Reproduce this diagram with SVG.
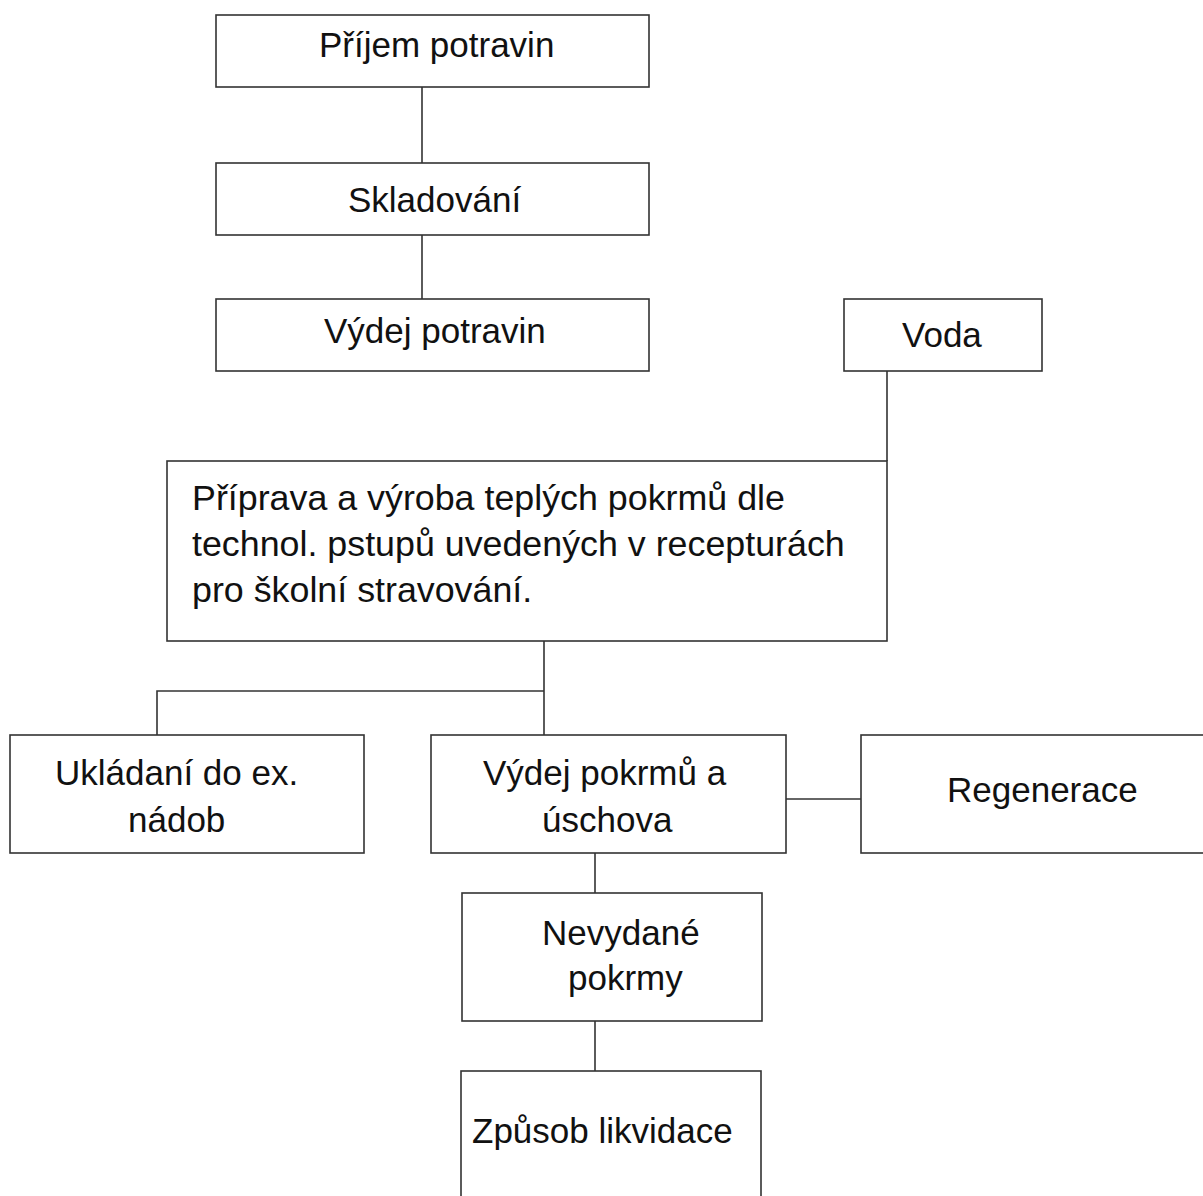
<svg xmlns="http://www.w3.org/2000/svg" width="1203" height="1196" viewBox="0 0 1203 1196">
<style>
.box{fill:#fff;stroke:#333;stroke-width:1.6}
.con{fill:none;stroke:#333;stroke-width:1.6}
text{font-family:"Liberation Sans",Arial,sans-serif;font-size:35px;fill:#111}
.big{font-size:35.8px}
</style>
<rect width="1203" height="1196" fill="#fff"/>
<g id="connectors">
<path class="con" d="M422 87V163"/>
<path class="con" d="M422 235V299"/>
<path class="con" d="M887 371V461"/>
<path class="con" d="M544 641V735"/>
<path class="con" d="M544 691H157V735"/>
<path class="con" d="M786 799H861"/>
<path class="con" d="M595 853V893"/>
<path class="con" d="M595 1021V1071"/>
</g>
<g id="n1"><rect class="box" x="216" y="15" width="433" height="72"/><text x="319" y="57">Příjem potravin</text></g>
<g id="n2"><rect class="box" x="216" y="163" width="433" height="72"/><text x="348" y="212">Skladování</text></g>
<g id="n3"><rect class="box" x="216" y="299" width="433" height="72"/><text x="324" y="343">Výdej potravin</text></g>
<g id="n4"><rect class="box" x="844" y="299" width="198" height="72"/><text x="902" y="347">Voda</text></g>
<g id="n5"><rect class="box" x="167" y="461" width="720" height="180"/>
<text class="big" x="192" y="510">Příprava a výroba teplých pokrmů dle</text>
<text class="big" x="192" y="556">technol. pstupů uvedených v recepturách</text>
<text class="big" x="192" y="602">pro školní stravování.</text></g>
<g id="n6"><rect class="box" x="10" y="735" width="354" height="118"/><text x="55" y="785">Ukládaní do ex.</text><text x="128" y="832">nádob</text></g>
<g id="n7"><rect class="box" x="431" y="735" width="355" height="118"/><text x="483" y="785">Výdej pokrmů a</text><text x="542" y="832">úschova</text></g>
<g id="n8"><rect class="box" x="861" y="735" width="350" height="118"/><text x="947" y="802">Regenerace</text></g>
<g id="n9"><rect class="box" x="462" y="893" width="300" height="128"/><text x="542" y="945">Nevydané</text><text x="568" y="990">pokrmy</text></g>
<g id="n10"><rect class="box" x="461" y="1071" width="300" height="140"/><text x="472" y="1143">Způsob likvidace</text></g>
</svg>
